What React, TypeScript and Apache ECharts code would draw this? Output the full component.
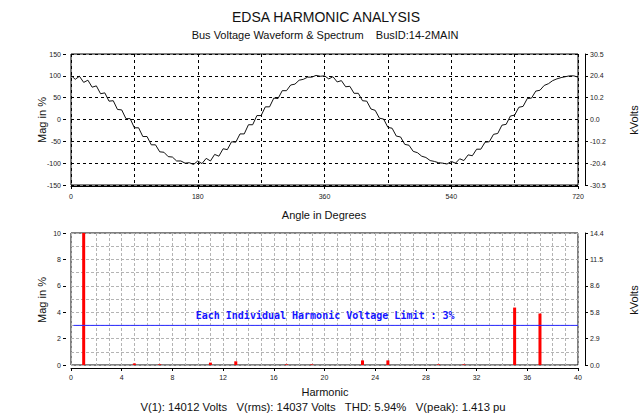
import React, { useEffect, useRef } from "react";
import * as echarts from "echarts";

// ---- Waveform (top chart) ----
const angles = [
  0, 6, 12, 18, 24, 30, 36, 42, 48, 54, 60, 66, 72, 78, 84, 90, 96, 102, 108, 114,
  120, 126, 132, 138, 144, 150, 156, 162, 168, 174, 180, 186, 192, 198, 204, 210, 216, 222, 228, 234,
  240, 246, 252, 258, 264, 270, 276, 282, 288, 294, 300, 306, 312, 318, 324, 330, 336, 342, 348, 354,
  360, 366, 372, 378, 384, 390, 396, 402, 408, 414, 420, 426, 432, 438, 444, 450, 456, 462, 468, 474,
  480, 486, 492, 498, 504, 510, 516, 522, 528, 534, 540, 546, 552, 558, 564, 570, 576, 582, 588, 594,
  600, 606, 612, 618, 624, 630, 636, 642, 648, 654, 660, 666, 672, 678, 684, 690, 696, 702, 708, 714, 720,
];
const waveMag = [
  101, 92, 99, 85, 90, 74, 77, 59, 61, 42, 43, 23, 22, 2, 2, -19, -19, -39, -39, -58,
  -58, -74, -75, -85, -86, -95, -95, -100, -99, -103, -95, -101, -89, -95, -80, -84, -67, -69, -51, -52,
  -33, -33, -12, -12, 9, 9, 29, 29, 49, 48, 66, 66, 79, 81, 90, 92, 97, 97, 101, 99,
  100, 93, 98, 86, 89, 75, 76, 60, 60, 43, 42, 24, 21, 3, 1, -18, -20, -38, -40, -57,
  -59, -73, -76, -84, -87, -94, -96, -99, -100, -102, -96, -100, -90, -94, -81, -83, -68, -68, -52, -51,
  -34, -32, -13, -11, 8, 10, 28, 30, 48, 49, 65, 67, 78, 82, 89, 93, 96, 98, 100, 100, 97,
];
const kvTopLabels = ["-30.5", "-20.4", "-10.2", "0.0", "10.2", "20.4", "30.5"];

// ---- Spectrum (bottom chart) ----
const harmonicOrders = [1, 5, 7, 11, 13, 17, 19, 23, 25, 29, 31, 35, 37];
const harmonicMags = [100, 0.12, 0.06, 0.18, 0.28, 0.05, 0.05, 0.35, 0.35, 0.05, 0.05, 4.35, 3.9];
const limitPercent = 3;
const limitRange = [0.2, 40];
const kvBottomLabels = ["0.0", "2.9", "5.8", "8.6", "11.5", "14.4"];

const titleText = "EDSA HARMONIC ANALYSIS";
const subtitleText = "Bus Voltage Waveform & Spectrum    BusID:14-2MAIN";
const summaryText = "V(1): 14012 Volts   V(rms): 14037 Volts   THD: 5.94%   V(peak): 1.413 pu";
const limitText = "Each Individual Harmonic Voltage Limit : 3%";

const FONT = "Liberation Sans";
const BLUE = "#2a2aff";

export default function App() {
  const ref = useRef<HTMLDivElement>(null);
  useEffect(() => {
    if (!ref.current) return;
    const chart = echarts.init(ref.current, null, { renderer: "svg" });
    const tickLabel = { fontFamily: FONT, fontSize: 7, color: "#222" };
    const blackDash = { color: "#000", width: 1, type: [3, 3] as any };
    const greyDash = { color: "#b4b4b4", width: 1, type: [3, 2] as any };
    const textStyle = (s: number) => ({ fontFamily: FONT, fontSize: s, fill: "#111" });

    chart.setOption({
      animation: false,
      backgroundColor: "#fff",
      grid: [
        { left: 71, right: 62, top: 54, height: 131, show: true, borderColor: "#000", borderWidth: 1, backgroundColor: "transparent" },
        { left: 71, right: 62, top: 233, height: 132, show: true, borderColor: "#000", borderWidth: 1, backgroundColor: "transparent" },
      ],
      xAxis: [
        {
          type: "value", gridIndex: 0, min: 0, max: 720, interval: 180, offset: 1,
          axisLine: { show: true, onZero: false, lineStyle: { color: "#000" } },
          axisTick: { show: true, length: 3, lineStyle: { color: "#000" } },
          axisLabel: { ...tickLabel, margin: 7 },
          splitLine: { show: true, lineStyle: blackDash },
          minorTick: { show: false, splitNumber: 2 },
          minorSplitLine: { show: true, lineStyle: blackDash },
        },
        {
          type: "value", gridIndex: 1, min: 0, max: 40, interval: 4, offset: 3,
          axisLine: { show: true, onZero: false, lineStyle: { color: "#000" } },
          axisTick: { show: true, length: 3, lineStyle: { color: "#000" } },
          axisLabel: { ...tickLabel, margin: 6 },
          splitLine: { show: true, lineStyle: greyDash },
          minorTick: { show: false, splitNumber: 4 },
          minorSplitLine: { show: true, lineStyle: greyDash },
        },
      ],
      yAxis: [
        {
          type: "value", gridIndex: 0, min: -150, max: 150, interval: 50, offset: 5,
          axisLine: { show: false, onZero: false },
          axisTick: { show: true, length: 3, lineStyle: { color: "#000" } },
          axisLabel: { ...tickLabel, margin: 5 },
          splitLine: { show: true, lineStyle: blackDash },
        },
        {
          type: "value", gridIndex: 0, position: "right", min: -150, max: 150, interval: 50, offset: 7,
          axisLine: { show: true, onZero: false, lineStyle: { color: "#000" } },
          axisTick: { show: true, length: 3, lineStyle: { color: "#000" } },
          axisLabel: { ...tickLabel, margin: 5, formatter: (v: number) => kvTopLabels[Math.round((v + 150) / 50)] },
          splitLine: { show: false },
        },
        {
          type: "value", gridIndex: 1, min: 0, max: 10, interval: 2, offset: 5,
          axisLine: { show: false, onZero: false },
          axisTick: { show: true, length: 3, lineStyle: { color: "#000" } },
          axisLabel: { ...tickLabel, margin: 5 },
          splitLine: { show: true, lineStyle: greyDash },
          minorTick: { show: false, splitNumber: 2 },
          minorSplitLine: { show: true, lineStyle: greyDash },
        },
        {
          type: "value", gridIndex: 1, position: "right", min: 0, max: 10, interval: 2, offset: 7,
          axisLine: { show: true, onZero: false, lineStyle: { color: "#000" } },
          axisTick: { show: true, length: 3, lineStyle: { color: "#000" } },
          axisLabel: { ...tickLabel, margin: 5, formatter: (v: number) => kvBottomLabels[Math.round(v / 2)] },
          splitLine: { show: false },
        },
      ],
      series: [
        {
          type: "line", xAxisIndex: 0, yAxisIndex: 0,
          data: angles.map((a, i) => [a, waveMag[i]]),
          showSymbol: false, symbol: "none",
          lineStyle: { color: "#111", width: 1 },
          silent: true,
        },
        {
          type: "bar", xAxisIndex: 1, yAxisIndex: 2,
          data: harmonicOrders.map((h, i) => [h, harmonicMags[i]]),
          barWidth: 3, clip: true,
          itemStyle: { color: "#ff0000" },
          silent: true,
        },
        {
          type: "line", xAxisIndex: 1, yAxisIndex: 2, z: 5,
          data: limitRange.map((x) => [x, limitPercent]),
          showSymbol: false, symbol: "none",
          color: BLUE,
          lineStyle: { color: BLUE, width: 1, type: "solid" },
          itemStyle: { color: BLUE },
          silent: true,
          markPoint: {
            silent: true, symbol: "rect", symbolSize: 0,
            data: [{ coord: [20.05, limitPercent], value: limitText }],
            label: {
              show: true, position: "top", distance: 5,
              formatter: limitText,
              fontFamily: "DejaVu Sans Mono", fontWeight: "bold", fontSize: 10, color: "#1414ff",
            },
          },
        },
      ],
      graphic: [
        { type: "text", x: 326, y: 17, style: { ...textStyle(14), text: titleText, textAlign: "center", textVerticalAlign: "middle" } },
        { type: "text", x: 325, y: 35, style: { ...textStyle(11), text: subtitleText, textAlign: "center", textVerticalAlign: "middle" } },
        { type: "text", x: 324, y: 215, style: { ...textStyle(11), text: "Angle in Degrees", textAlign: "center", textVerticalAlign: "middle" } },
        { type: "text", x: 325, y: 392, style: { ...textStyle(11), text: "Harmonic", textAlign: "center", textVerticalAlign: "middle" } },
        { type: "text", x: 323, y: 407, style: { ...textStyle(11.3), text: summaryText, textAlign: "center", textVerticalAlign: "middle" } },
        { type: "text", x: 42, y: 120, rotation: Math.PI / 2, style: { ...textStyle(11), text: "Mag in %", textAlign: "center", textVerticalAlign: "middle" } },
        { type: "text", x: 42, y: 300, rotation: Math.PI / 2, style: { ...textStyle(11), text: "Mag in %", textAlign: "center", textVerticalAlign: "middle" } },
        { type: "text", x: 634, y: 120, rotation: Math.PI / 2, style: { ...textStyle(11), text: "kVolts", textAlign: "center", textVerticalAlign: "middle" } },
        { type: "text", x: 634, y: 300, rotation: Math.PI / 2, style: { ...textStyle(11), text: "kVolts", textAlign: "center", textVerticalAlign: "middle" } },
      ],
    });
    return () => chart.dispose();
  }, []);
  return <div ref={ref} style={{ position: "fixed", left: 0, top: 0, width: 640, height: 416 }} />;
}
